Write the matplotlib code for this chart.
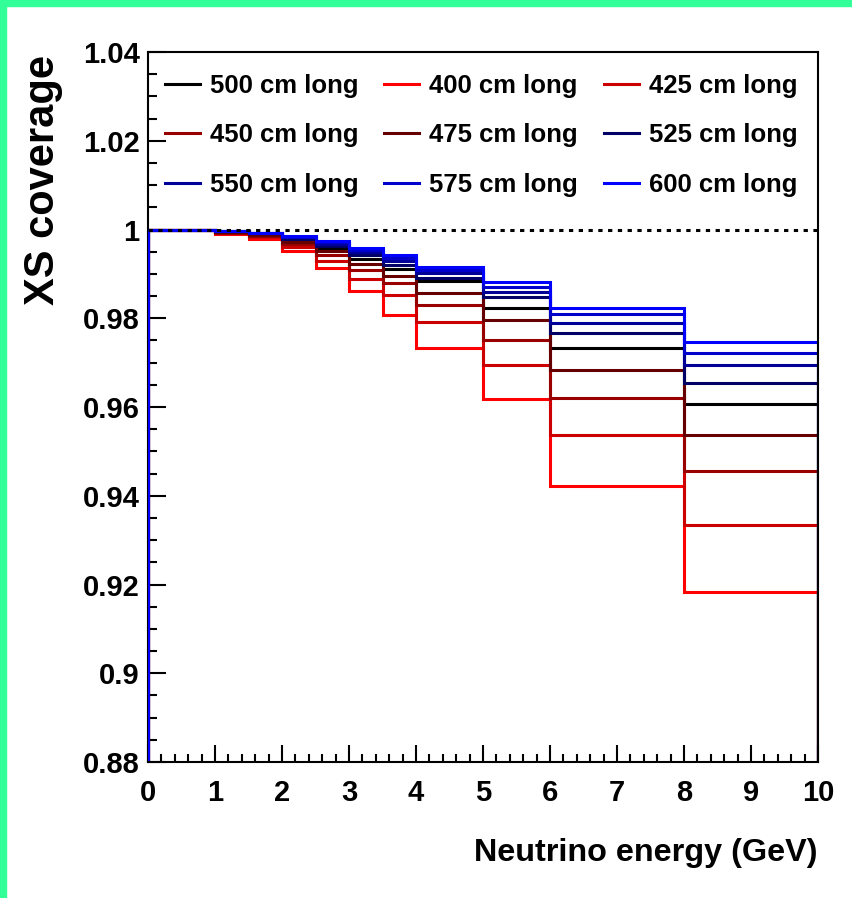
import matplotlib
matplotlib.use("Agg")
import matplotlib.pyplot as plt
from matplotlib.patches import Rectangle
from matplotlib.ticker import MultipleLocator, FixedLocator

# Energy bin edges (GeV)
edges = [0, 1, 1.5, 2, 2.5, 3, 3.5, 4, 5, 6, 8, 10]

# Cross-section coverage per energy bin for each detector length
cov_500 = [1.0, 0.9995, 0.9990, 0.9976, 0.9958, 0.9934, 0.9912, 0.9884, 0.9823, 0.9733, 0.9606]
cov_400 = [1.0, 0.9990, 0.9979, 0.9951, 0.9913, 0.9862, 0.9808, 0.9733, 0.9617, 0.9423, 0.9182]
cov_425 = [1.0, 0.9992, 0.9983, 0.9960, 0.9930, 0.9888, 0.9853, 0.9792, 0.9694, 0.9538, 0.9335]
cov_450 = [1.0, 0.9993, 0.9986, 0.9967, 0.9942, 0.9908, 0.9879, 0.9829, 0.9752, 0.9621, 0.9455]
cov_475 = [1.0, 0.9994, 0.9988, 0.9972, 0.9951, 0.9922, 0.9895, 0.9858, 0.9795, 0.9684, 0.9538]
cov_525 = [1.0, 0.9996, 0.9991, 0.9979, 0.9963, 0.9942, 0.9920, 0.9890, 0.9848, 0.9767, 0.9654]
cov_550 = [1.0, 0.9996, 0.9992, 0.9982, 0.9968, 0.9949, 0.9929, 0.9901, 0.9859, 0.9789, 0.9694]
cov_575 = [1.0, 0.9997, 0.9993, 0.9983, 0.9971, 0.9953, 0.9935, 0.9909, 0.9871, 0.9809, 0.9722]
cov_600 = [1.0, 0.9997, 0.9993, 0.9986, 0.9975, 0.9958, 0.9942, 0.9916, 0.9882, 0.9822, 0.9747]

labels = ["500 cm long", "400 cm long", "425 cm long", "450 cm long", "475 cm long",
          "525 cm long", "550 cm long", "575 cm long", "600 cm long"]
series = [cov_500, cov_400, cov_425, cov_450, cov_475, cov_525, cov_550, cov_575, cov_600]
colors = ["#000000", "#ff0000", "#cc0000", "#990000", "#660000",
          "#000066", "#000099", "#0000cc", "#0000ff"]

x_ticks = [0, 1, 2, 3, 4, 5, 6, 7, 8, 9, 10]
y_ticks = [0.88, 0.9, 0.92, 0.94, 0.96, 0.98, 1.0, 1.02, 1.04]
y_ticklabels = ["0.88", "0.9", "0.92", "0.94", "0.96", "0.98", "1", "1.02", "1.04"]

font = ["Liberation Sans", "DejaVu Sans"]

W, H = 852, 898
fig = plt.figure(figsize=(W / 100, H / 100), dpi=100)
fig.patch.set_facecolor("white")

# thin green frame on the top and left edges
fig.patches.append(Rectangle((0, 0), 6 / W, 1, transform=fig.transFigure,
                             color="#33ff99", zorder=10))
fig.patches.append(Rectangle((0, 1 - 6 / H), 1, 6 / H, transform=fig.transFigure,
                             color="#33ff99", zorder=10))

ax = fig.add_axes([148 / W, 1 - 762 / H, (818 - 148) / W, (762 - 52) / H])

handles = []
for vals, col, lab in zip(series, colors, labels):
    h = ax.stairs(vals, edges, baseline=0.0, color=col, lw=2.2, label=lab, zorder=3)
    handles.append(h)

# reference line at full coverage
ax.plot([0, 10], [1.0, 1.0], color="black", lw=2.2, ls=(0, (1.4, 1.8)), zorder=5)

ax.set_xlim(0, 10)
ax.set_ylim(0.88, 1.04)

ax.xaxis.set_major_locator(FixedLocator(x_ticks))
ax.xaxis.set_minor_locator(MultipleLocator(0.2))
ax.yaxis.set_major_locator(FixedLocator(y_ticks))
ax.yaxis.set_minor_locator(MultipleLocator(0.005))
ax.set_yticklabels(y_ticklabels)

ax.tick_params(axis="both", which="both", direction="in", top=False, right=False,
               color="black", width=1.5)
ax.tick_params(axis="x", which="major", length=12, pad=12.5)
ax.tick_params(axis="x", which="minor", length=6)
ax.tick_params(axis="y", which="major", length=13, pad=6)
ax.tick_params(axis="y", which="minor", length=6.5)

for lab in ax.get_xticklabels() + ax.get_yticklabels():
    lab.set_family(font)
    lab.set_fontweight("bold")
    lab.set_fontsize(21)

for name, sp in ax.spines.items():
    sp.set_linewidth(1.5)
    sp.set_color("black")
    sp.set_zorder(2 if name == "left" else 6)

# legend filled column-wise so that it reads row by row
order = [0, 3, 6, 1, 4, 7, 2, 5, 8]
leg = ax.legend([handles[i] for i in order], [labels[i] for i in order],
                ncol=3, loc="upper left", bbox_to_anchor=(0.0254, 0.969),
                frameon=False, handlelength=1.36, handletextpad=0.39,
                columnspacing=1.0, labelspacing=0.99, borderpad=0.0,
                borderaxespad=0.0,
                prop={"family": font, "weight": "bold", "size": 18.5})
for line in leg.get_lines():
    line.set_linewidth(2.2)

fig.text(818 / W, 1 - 861 / H, "Neutrino energy (GeV)", ha="right", va="baseline",
         family=font, fontweight="bold", fontsize=23.3)
fig.text(43 / W, 1 - 55 / H, "XS coverage", rotation=90, ha="center", va="top",
         family=font, fontweight="bold", fontsize=30)

fig.savefig("out.png", dpi=100, facecolor="white")
